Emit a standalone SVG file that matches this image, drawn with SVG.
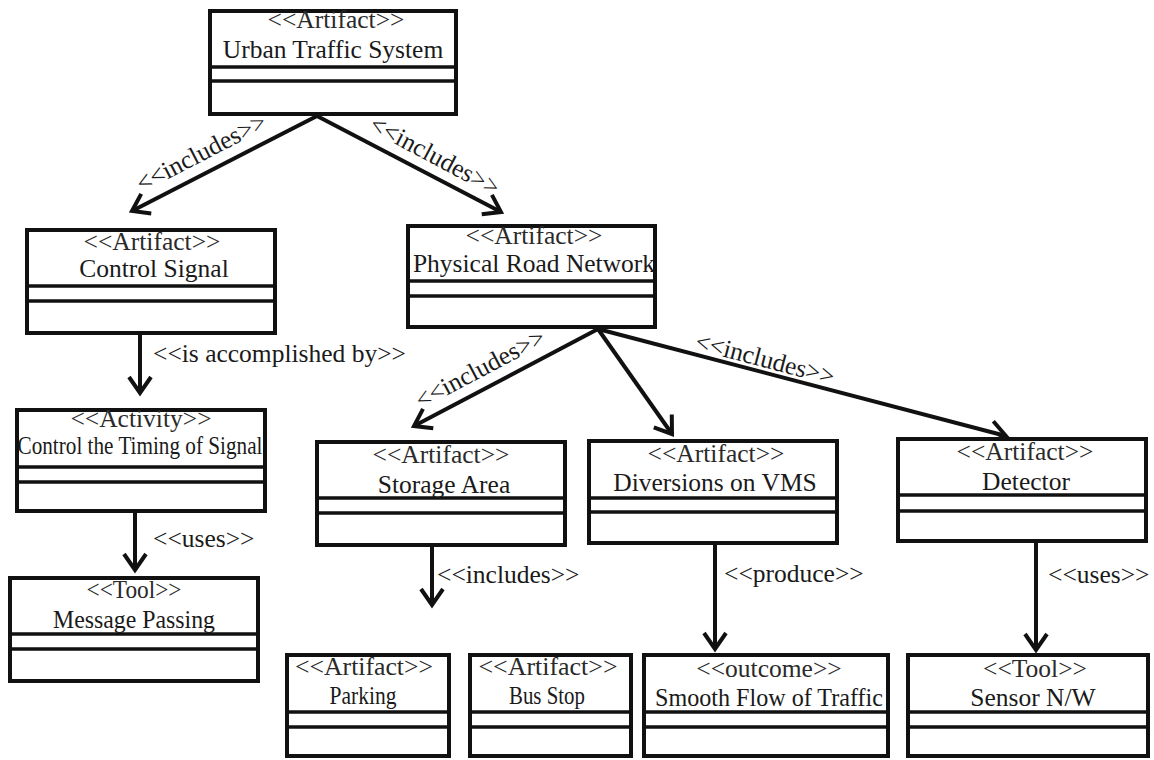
<svg xmlns="http://www.w3.org/2000/svg" width="1154" height="760" viewBox="0 0 1154 760">
  <style>
    .box rect { fill: #ffffff; stroke: #111111; stroke-width: 4; }
    .box line { stroke: #111111; stroke-width: 3.5; }
    text { font-family: "Liberation Serif", "Times New Roman", serif; font-size: 25.5px; fill: #1a1a1a; }
    .c { text-anchor: middle; }
    .st { fill: #2a2a2a; }
    .conn line { stroke: #111111; stroke-width: 4; marker-end: url(#open); }
  </style>
  <defs>
    <marker id="open" markerUnits="userSpaceOnUse" markerWidth="26" markerHeight="30" viewBox="-20 -15 26 30" refX="0" refY="0" orient="auto">
      <path d="M-16,-11 L0,0 L-16,11" fill="none" stroke="#111111" stroke-width="4"/>
    </marker>
  </defs>
  <rect width="1154" height="760" fill="#ffffff"/>

  <!-- connectors -->
  <g id="connectors" class="conn">
    <line x1="317" y1="116" x2="132" y2="211"/>
    <line x1="317" y1="116" x2="501" y2="212"/>
    <line x1="140" y1="335" x2="140" y2="393"/>
    <line x1="135" y1="513" x2="135" y2="570"/>
    <line x1="598" y1="329" x2="414" y2="426"/>
    <line x1="598" y1="329" x2="672" y2="434"/>
    <line x1="598" y1="329" x2="1006" y2="436"/>
    <line x1="432" y1="546" x2="432" y2="605"/>
    <line x1="715" y1="545" x2="715" y2="649"/>
    <line x1="1036" y1="543" x2="1036" y2="650"/>
  </g>

  <!-- connector labels -->
  <g id="connector-labels">
    <text class="c" transform="translate(205,160) rotate(-27.2)">&lt;&lt;includes&gt;&gt;</text>
    <text class="c" transform="translate(431,163) rotate(28)">&lt;&lt;includes&gt;&gt;</text>
    <text x="153" y="362">&lt;&lt;is accomplished by&gt;&gt;</text>
    <text x="153" y="547">&lt;&lt;uses&gt;&gt;</text>
    <text class="c" transform="translate(484,376) rotate(-27.8)">&lt;&lt;includes&gt;&gt;</text>
    <text class="c" transform="translate(763,367) rotate(14.7)">&lt;&lt;includes&gt;&gt;</text>
    <text x="437" y="583">&lt;&lt;includes&gt;&gt;</text>
    <text x="724" y="582">&lt;&lt;produce&gt;&gt;</text>
    <text x="1048" y="583">&lt;&lt;uses&gt;&gt;</text>
  </g>

  <g id="urban-traffic-system" class="box">
    <rect x="210" y="11" width="246" height="103"/>
    <line x1="210" y1="67" x2="456" y2="67"/>
    <line x1="210" y1="81" x2="456" y2="81"/>
    <text class="c st" x="336" y="28">&lt;&lt;Artifact&gt;&gt;</text>
    <text class="c" x="333" y="58">Urban Traffic System</text>
  </g>

  <g id="control-signal" class="box">
    <rect x="27" y="230" width="248" height="103"/>
    <line x1="27" y1="286" x2="275" y2="286"/>
    <line x1="27" y1="301" x2="275" y2="301"/>
    <text class="c st" x="152" y="250">&lt;&lt;Artifact&gt;&gt;</text>
    <text class="c" x="154" y="277">Control Signal</text>
  </g>

  <g id="control-timing" class="box">
    <rect x="17" y="410" width="248" height="101"/>
    <line x1="17" y1="467" x2="265" y2="467"/>
    <line x1="17" y1="482" x2="265" y2="482"/>
    <text class="c st" x="141" y="427">&lt;&lt;Activity&gt;&gt;</text>
    <text class="c" x="140" y="454" textLength="245" lengthAdjust="spacingAndGlyphs">Control the Timing of Signal</text>
  </g>

  <g id="message-passing" class="box">
    <rect x="10" y="578" width="248" height="103"/>
    <line x1="10" y1="634" x2="258" y2="634"/>
    <line x1="10" y1="649" x2="258" y2="649"/>
    <text class="c st" x="134" y="598" textLength="95" lengthAdjust="spacingAndGlyphs">&lt;&lt;Tool&gt;&gt;</text>
    <text class="c" x="134" y="628" textLength="162" lengthAdjust="spacingAndGlyphs">Message Passing</text>
  </g>

  <g id="physical-road-network" class="box">
    <rect x="408" y="226" width="247" height="101"/>
    <line x1="408" y1="281" x2="655" y2="281"/>
    <line x1="408" y1="296" x2="655" y2="296"/>
    <text class="c st" x="534" y="244">&lt;&lt;Artifact&gt;&gt;</text>
    <text class="c" x="534" y="272">Physical Road Network</text>
  </g>

  <g id="storage-area" class="box">
    <rect x="317" y="442" width="248" height="103"/>
    <line x1="317" y1="498" x2="565" y2="498"/>
    <line x1="317" y1="513" x2="565" y2="513"/>
    <text class="c st" x="441" y="463">&lt;&lt;Artifact&gt;&gt;</text>
    <text class="c" x="444" y="493">Storage Area</text>
  </g>

  <g id="diversions-vms" class="box">
    <rect x="589" y="441" width="248" height="102"/>
    <line x1="589" y1="498" x2="837" y2="498"/>
    <line x1="589" y1="512" x2="837" y2="512"/>
    <text class="c st" x="716" y="462">&lt;&lt;Artifact&gt;&gt;</text>
    <text class="c" x="715" y="491">Diversions on VMS</text>
  </g>

  <g id="detector" class="box">
    <rect x="898" y="439" width="248" height="102"/>
    <line x1="898" y1="495" x2="1146" y2="495"/>
    <line x1="898" y1="511" x2="1146" y2="511"/>
    <text class="c st" x="1025" y="460">&lt;&lt;Artifact&gt;&gt;</text>
    <text class="c" x="1026" y="490">Detector</text>
  </g>

  <g id="parking" class="box">
    <rect x="287" y="655" width="162" height="101"/>
    <line x1="287" y1="712" x2="449" y2="712"/>
    <line x1="287" y1="727" x2="449" y2="727"/>
    <text class="c st" x="364" y="675" textLength="138" lengthAdjust="spacingAndGlyphs">&lt;&lt;Artifact&gt;&gt;</text>
    <text class="c" x="363" y="704" textLength="67" lengthAdjust="spacingAndGlyphs">Parking</text>
  </g>

  <g id="bus-stop" class="box">
    <rect x="470" y="655" width="161" height="101"/>
    <line x1="470" y1="712" x2="631" y2="712"/>
    <line x1="470" y1="727" x2="631" y2="727"/>
    <text class="c st" x="548" y="675" textLength="139" lengthAdjust="spacingAndGlyphs">&lt;&lt;Artifact&gt;&gt;</text>
    <text class="c" x="547" y="704" textLength="76" lengthAdjust="spacingAndGlyphs">Bus Stop</text>
  </g>

  <g id="smooth-flow" class="box">
    <rect x="644" y="655" width="244" height="101"/>
    <line x1="644" y1="712" x2="888" y2="712"/>
    <line x1="644" y1="727" x2="888" y2="727"/>
    <text class="c st" x="769" y="677">&lt;&lt;outcome&gt;&gt;</text>
    <text class="c" x="769" y="706" textLength="228" lengthAdjust="spacingAndGlyphs">Smooth Flow of Traffic</text>
  </g>

  <g id="sensor-nw" class="box">
    <rect x="908" y="655" width="240" height="101"/>
    <line x1="908" y1="712" x2="1148" y2="712"/>
    <line x1="908" y1="727" x2="1148" y2="727"/>
    <text class="c st" x="1035" y="677">&lt;&lt;Tool&gt;&gt;</text>
    <text class="c" x="1033" y="706">Sensor N/W</text>
  </g>
</svg>
